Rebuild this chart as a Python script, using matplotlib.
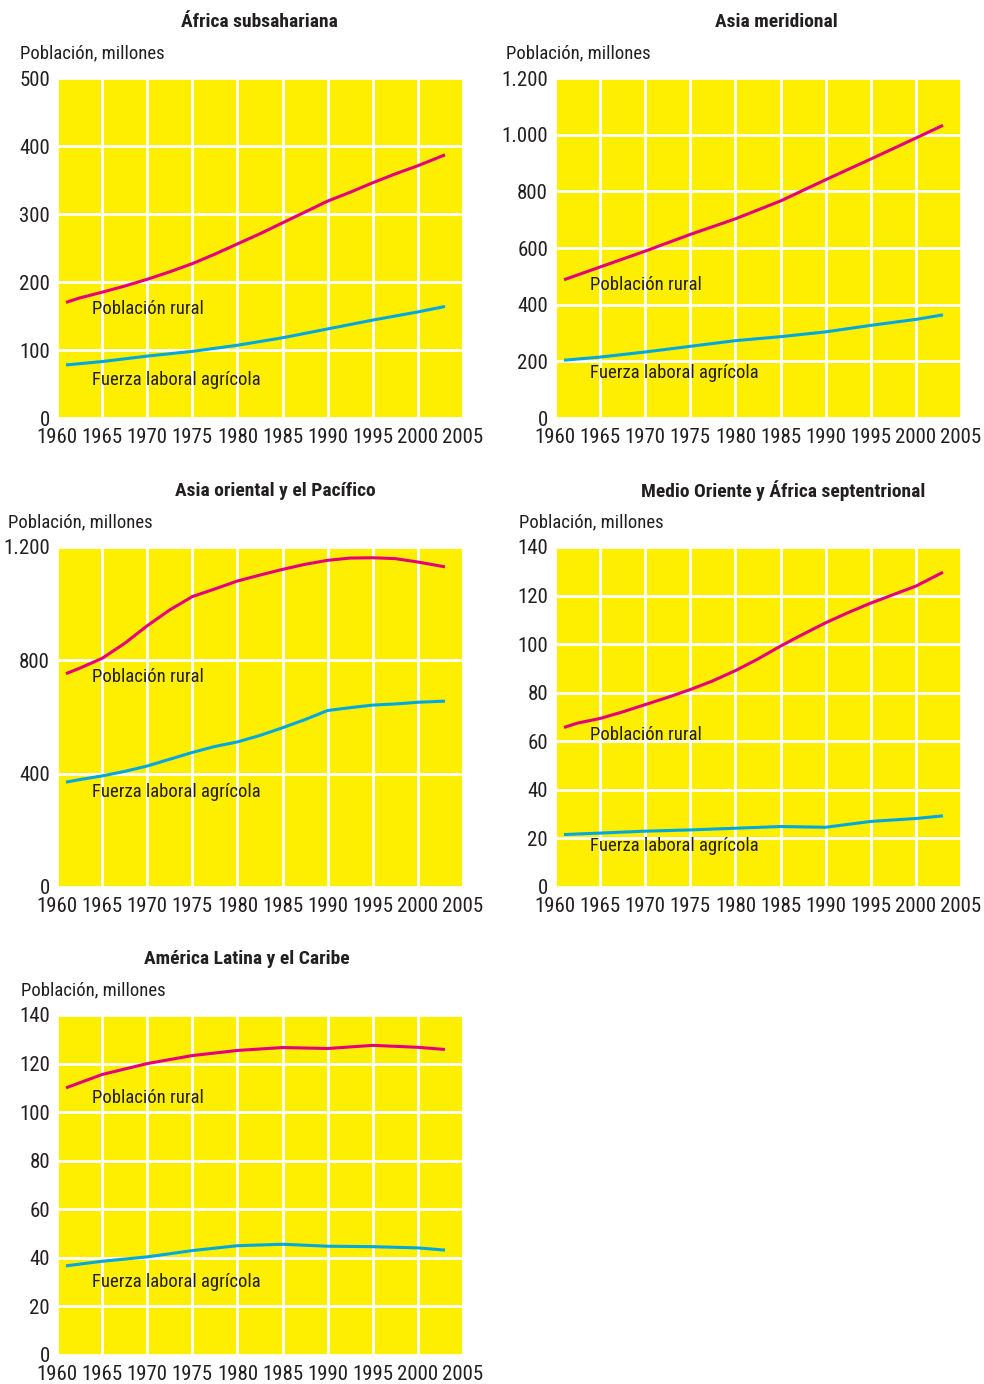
import matplotlib
matplotlib.use("Agg")
import matplotlib.pyplot as plt
from matplotlib import font_manager
from matplotlib.ticker import FuncFormatter

names = {f.name for f in font_manager.fontManager.ttflist}
prefs = ['Roboto Condensed', 'Archivo Narrow', 'PT Sans Narrow', 'Fira Sans Condensed',
         'IBM Plex Sans Condensed', 'Liberation Sans Narrow', 'Liberation Sans']
font = next(p for p in prefs if p in names)
plt.rcParams['font.family'] = [font, 'DejaVu Sans']

years = [1961, 1965, 1970, 1975, 1980, 1985, 1990, 1995, 2000, 2003]
years_fine = [1961, 1962.5, 1965, 1967.5, 1970, 1972.5, 1975, 1977.5, 1980, 1982.5,
              1985, 1987.5, 1990, 1992.5, 1995, 1997.5, 2000, 2003]

titles = ['África subsahariana', 'Asia meridional', 'Asia oriental y el Pacífico',
          'Medio Oriente y África septentrional', 'América Latina y el Caribe']

rural_ssa = [170, 176.5, 185, 194, 204, 215, 227, 241, 256, 271,
             287, 303, 319, 332, 346, 359, 371, 387]
labor_ssa = [78, 83, 91, 98, 107, 118, 131, 144, 156, 164]

rural_sa = [488, 533, 589, 648, 703, 766, 841, 914, 988, 1033]
labor_sa = [204, 215, 233, 253, 273, 287, 304, 327, 348, 364]

rural_eap = [753, 772, 807, 860, 922, 978, 1025, 1052, 1080, 1101,
             1121, 1139, 1153, 1161, 1162, 1159, 1147, 1130]
labor_eap = [370, 379, 392, 408, 427, 451, 475, 496, 512, 535,
             562, 591, 623, 633, 642, 646, 652, 656]

rural_mena = [65.7, 67.5, 69.4, 72.1, 75.1, 78.1, 81.3, 84.9, 89.1, 93.9,
              99.2, 104.1, 108.8, 113.0, 116.9, 120.4, 123.9, 129.6]
labor_mena = [21.6, 22.2, 23.0, 23.5, 24.2, 24.9, 24.6, 27.0, 28.2, 29.3]

rural_lac = [110, 115.5, 120, 123.3, 125.4, 126.6, 126.2, 127.5, 126.7, 125.8]
labor_lac = [36.7, 38.6, 40.4, 43.0, 45.0, 45.6, 44.8, 44.6, 44.1, 43.2]

yticks = [[0, 100, 200, 300, 400, 500],
          [0, 200, 400, 600, 800, 1000, 1200],
          [0, 400, 800, 1200],
          [0, 20, 40, 60, 80, 100, 120, 140],
          [0, 20, 40, 60, 80, 100, 120, 140]]
xticks = list(range(1960, 2006, 5))

rural = [(years_fine, rural_ssa), (years, rural_sa), (years_fine, rural_eap),
         (years_fine, rural_mena), (years, rural_lac)]
labor = [(years, labor_ssa), (years, labor_sa), (years_fine, labor_eap),
         (years, labor_mena), (years, labor_lac)]

# pixel layout: (left, top) of each plot area, title centre, ylabel left edge
W, H = 984, 1384
boxes = [(57, 78), (555, 78), (57, 547), (555, 547), (57, 1015)]
title_x = [259, 776, 275, 783, 247]
ylab_x = [20, 506, 8, 519, 21]
# y positions (data units) of the in-plot labels
lab_rural = [160, 470, 740, 62.5, 106]
lab_labor = [56, 160, 335, 17, 30]

YELLOW = '#FEEE00'
PINK = '#E4007C'
CYAN = '#00A8E0'
TXT = '#231F20'

fig = plt.figure(figsize=(W / 100, H / 100), dpi=100)

def fmt(v, pos):
    return f'{int(v):,}'.replace(',', '.')

for i in range(5):
    left, top = boxes[i]
    ax = fig.add_axes([left / W, 1 - (top + 340) / H, 406 / W, 340 / H])
    ax.set_facecolor(YELLOW)
    for s in ax.spines.values():
        s.set_visible(False)
    ax.set_xlim(1960, 2005)
    ax.set_ylim(0, yticks[i][-1])
    ax.set_xticks(xticks)
    ax.set_yticks(yticks[i])
    ax.yaxis.set_major_formatter(FuncFormatter(fmt))
    ax.tick_params(length=0, labelsize=15, colors=TXT)
    ax.tick_params(axis='x', pad=7)
    ax.tick_params(axis='y', pad=5)
    ax.grid(color='white', linewidth=2)
    ax.set_axisbelow(True)

    ax.plot(*rural[i], color=PINK, linewidth=2.2, solid_capstyle='butt')
    ax.plot(*labor[i], color=CYAN, linewidth=2.2, solid_capstyle='butt')

    ax.text(1963.9, lab_rural[i], 'Población rural', fontsize=13.5, color=TXT, va='center')
    ax.text(1963.9, lab_labor[i], 'Fuerza laboral agrícola', fontsize=13.5, color=TXT, va='center')

    fig.text(title_x[i] / W, 1 - (top - 56) / H, titles[i], fontsize=14,
             fontweight='bold', color=TXT, ha='center', va='center')
    fig.text(ylab_x[i] / W, 1 - (top - 25) / H, 'Población, millones', fontsize=13.5,
             color=TXT, ha='left', va='center')

fig.savefig('out.png', dpi=100, facecolor='white')
